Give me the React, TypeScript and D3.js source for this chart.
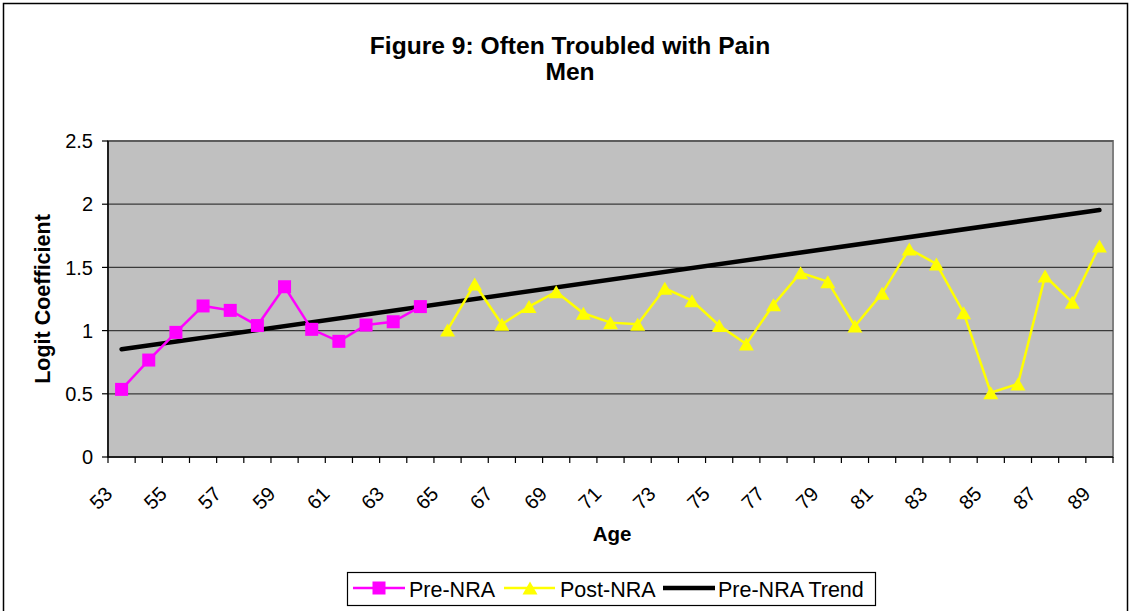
import * as d3 from "d3";

const ages = [53, 54, 55, 56, 57, 58, 59, 60, 61, 62, 63, 64, 65, 66, 67, 68, 69, 70, 71, 72, 73, 74, 75, 76, 77, 78, 79, 80, 81, 82, 83, 84, 85, 86, 87, 88, 89];
const tickAges = [53, 55, 57, 59, 61, 63, 65, 67, 69, 71, 73, 75, 77, 79, 81, 83, 85, 87, 89];

const preAges = [53, 54, 55, 56, 57, 58, 59, 60, 61, 62, 63, 64];
const preValues = [0.535, 0.767, 0.986, 1.195, 1.16, 1.04, 1.347, 1.01, 0.915, 1.044, 1.07, 1.19];

const postAges = [65, 66, 67, 68, 69, 70, 71, 72, 73, 74, 75, 76, 77, 78, 79, 80, 81, 82, 83, 84, 85, 86, 87, 88, 89];
const postValues = [1.005, 1.369, 1.05, 1.19, 1.308, 1.137, 1.063, 1.05, 1.335, 1.237, 1.04, 0.894, 1.205, 1.458, 1.387, 1.036, 1.295, 1.646, 1.527, 1.142, 0.509, 0.578, 1.432, 1.224, 1.67];

const trendAges = [53, 89];
const trendValues = [0.852, 1.954];

const yTicks = [0, 0.5, 1, 1.5, 2, 2.5];

const W = 1130;
const H = 611;
const plot = { left: 108, right: 1113, top: 141, bottom: 457 };
const FONT = "Liberation Sans, Arial, sans-serif";

export default function App() {
  const x = d3.scaleBand<number>().domain(ages).range([plot.left, plot.right]);
  const cx = (a: number) => (x(a) as number) + x.bandwidth() / 2;
  const y = d3.scaleLinear().domain([0, 2.5]).range([plot.bottom, plot.top]);

  const line = d3
    .line<[number, number]>()
    .x((d) => cx(d[0]))
    .y((d) => y(d[1]));

  const pre = preAges.map((a, i) => [a, preValues[i]] as [number, number]);
  const post = postAges.map((a, i) => [a, postValues[i]] as [number, number]);
  const trend = trendAges.map((a, i) => [a, trendValues[i]] as [number, number]);

  const sq = 13;
  const tri = (px: number, py: number) =>
    `M${px},${py - 6.5}L${px + 7.5},${py + 6.5}L${px - 7.5},${py + 6.5}Z`;

  return (
    <>
      <style>{"body{margin:0}"}</style>
      <svg width={W} height={H} style={{ display: "block", fontFamily: FONT }}>
        <rect x={0} y={0} width={W} height={H} fill="#fff" />
        <rect x={3.5} y={3.5} width={W - 6} height={H + 10} fill="none" stroke="#000" strokeWidth={1.5} />

        {/* title */}
        <text x={570} y={54} textAnchor="middle" fontSize={24.6} fontWeight="bold">
          Figure 9: Often Troubled with Pain
        </text>
        <text x={570} y={80} textAnchor="middle" fontSize={24.6} fontWeight="bold">
          Men
        </text>

        {/* plot area */}
        <rect
          x={plot.left}
          y={plot.top}
          width={plot.right - plot.left}
          height={plot.bottom - plot.top}
          fill="#C0C0C0"
          stroke="#808080"
          strokeWidth={2}
        />
        {yTicks.slice(1).map((t) => (
          <line key={t} x1={plot.left} x2={plot.right} y1={y(t)} y2={y(t)} stroke="#3a3a3a" strokeWidth={1.2} />
        ))}

        {/* y axis */}
        <line x1={plot.left} x2={plot.left} y1={plot.top} y2={plot.bottom} stroke="#000" strokeWidth={1.5} />
        {yTicks.map((t) => (
          <g key={t}>
            <line x1={plot.left - 6} x2={plot.left} y1={y(t)} y2={y(t)} stroke="#000" strokeWidth={1.2} />
            <text x={93} y={y(t)} dy="0.36em" textAnchor="end" fontSize={20}>
              {t}
            </text>
          </g>
        ))}

        {/* x axis */}
        <line x1={plot.left} x2={plot.right} y1={plot.bottom} y2={plot.bottom} stroke="#000" strokeWidth={1.5} />
        {ages.map((a) => (
          <line key={a} x1={x(a)} x2={x(a)} y1={plot.bottom} y2={plot.bottom + 6} stroke="#000" strokeWidth={1.2} />
        ))}
        <line x1={plot.right} x2={plot.right} y1={plot.bottom} y2={plot.bottom + 6} stroke="#000" strokeWidth={1.2} />
        {tickAges.map((a) => (
          <text
            key={a}
            transform={`translate(${cx(a) - 13},${490}) rotate(-45)`}
            dy="0.36em"
            textAnchor="end"
            fontSize={20}
          >
            {a}
          </text>
        ))}

        {/* axis titles */}
        <text x={612} y={541} textAnchor="middle" fontSize={20.5} fontWeight="bold">
          Age
        </text>
        <text transform={`translate(50,${(plot.top + plot.bottom) / 2}) rotate(-90)`} textAnchor="middle" fontSize={21.5} fontWeight="bold">
          Logit Coefficient
        </text>

        {/* trend */}
        <path d={line(trend) as string} fill="none" stroke="#000" strokeWidth={4.5} strokeLinecap="round" />

        {/* pre-NRA */}
        <path d={line(pre) as string} fill="none" stroke="#FF00FF" strokeWidth={2.5} />
        {pre.map((d) => (
          <rect key={d[0]} x={cx(d[0]) - sq / 2} y={y(d[1]) - sq / 2} width={sq} height={sq} fill="#FF00FF" />
        ))}

        {/* post-NRA */}
        <path d={line(post) as string} fill="none" stroke="#FFFF00" strokeWidth={2.5} />
        {post.map((d) => (
          <path key={d[0]} d={tri(cx(d[0]), y(d[1]))} fill="#FFFF00" />
        ))}

        {/* legend */}
        <rect x={347.5} y={572.5} width={528} height={33} fill="#fff" stroke="#000" strokeWidth={1.2} />
        <line x1={353} x2={405} y1={588} y2={588} stroke="#FF00FF" strokeWidth={2.5} />
        <rect x={379 - sq / 2} y={588 - sq / 2} width={sq} height={sq} fill="#FF00FF" />
        <text x={409} y={589} dy="0.36em" fontSize={21.5}>
          Pre-NRA
        </text>
        <line x1={504} x2={555} y1={588} y2={588} stroke="#FFFF00" strokeWidth={2.5} />
        <path d={tri(530, 588)} fill="#FFFF00" />
        <text x={560} y={589} dy="0.36em" fontSize={21.5}>
          Post-NRA
        </text>
        <line x1={663} x2={715} y1={588} y2={588} stroke="#000" strokeWidth={4.5} />
        <text x={718} y={589} dy="0.36em" fontSize={21.5}>
          Pre-NRA Trend
        </text>
      </svg>
    </>
  );
}
